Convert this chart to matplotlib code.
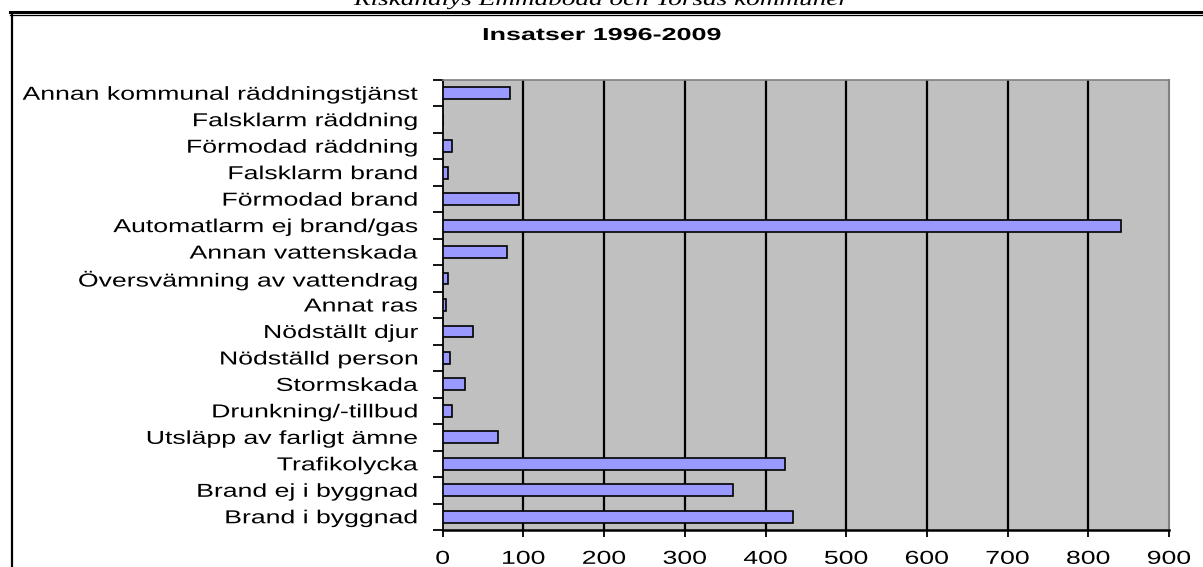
import matplotlib
matplotlib.use("Agg")
from matplotlib import pyplot as plt
from matplotlib.lines import Line2D
from matplotlib.patheffects import AbstractPathEffect
from matplotlib.transforms import Affine2D
import numpy as np

# data, bottom to top as in the chart
categories = ["Brand i byggnad", "Brand ej i byggnad", "Trafikolycka",
              "Utsläpp av farligt ämne", "Drunkning/-tillbud", "Stormskada",
              "Nödställd person", "Nödställt djur", "Annat ras",
              "Översvämning av vattendrag", "Annan vattenskada",
              "Automatlarm ej brand/gas", "Förmodad brand", "Falsklarm brand",
              "Förmodad räddning", "Falsklarm räddning",
              "Annan kommunal räddningstjänst"]
values = [434, 360, 424, 69, 12, 28, 9, 38, 4, 7, 80, 841, 95, 7, 12, 0, 83]
xticks = [0, 100, 200, 300, 400, 500, 600, 700, 800, 900]


class Stretch(AbstractPathEffect):
    # widen text horizontally (the original chart's text is stretched)
    def __init__(self, sx, ha="center"):
        super().__init__()
        self.sx = sx
        self.ha = ha

    def draw_path(self, renderer, gc, tpath, affine, rgbFace=None):
        bb = tpath.get_extents(affine)
        if self.ha == "right":
            p = bb.x1
        elif self.ha == "left":
            p = bb.x0
        else:
            p = (bb.x0 + bb.x1) / 2
        aff = affine + Affine2D().translate(-p, 0).scale(self.sx, 1).translate(p, 0)
        renderer.draw_path(gc, tpath, aff, rgbFace)


plt.rcParams['font.family'] = ['Liberation Sans', 'DejaVu Sans']

W, H = 1203, 567
fig = plt.figure(figsize=(W/100, H/100), dpi=100)
ax = fig.add_axes([442.7/W, 1-530/H, (1169-442.7)/W, (530-80)/H])

ax.set_facecolor("#C0C0C0")
y = np.arange(len(categories))
ax.barh(y, values, height=0.45, color="#9999FF", edgecolor="black",
        linewidth=1.2, zorder=3)

ax.set_xlim(0, 900)
ax.set_ylim(-0.5, len(categories) - 0.5)
ax.set_xticks(xticks)
ax.set_xticklabels([str(t) for t in xticks], fontsize=13.5)
for t in xticks[1:-1]:
    ax.axvline(t, color="black", linewidth=1.6, zorder=2)

ax.set_yticks(y)
ax.set_yticklabels(categories, fontsize=13.5)
ax.set_yticks(np.arange(len(categories) + 1) - 0.5, minor=True)
ax.tick_params(axis="y", which="major", length=0, pad=18)
ax.tick_params(axis="y", which="minor", length=7, width=1.3, direction="out")
ax.tick_params(axis="x", length=5, width=1.3, direction="out", pad=10)

for lab in ax.get_yticklabels():
    lab.set_path_effects([Stretch(1.42, "right")])
for lab in ax.get_xticklabels():
    lab.set_path_effects([Stretch(1.42, "center")])

ax.spines["left"].set_linewidth(1.3)
ax.spines["bottom"].set_linewidth(1.8)
ax.spines["top"].set_color("#808080")
ax.spines["right"].set_color("#808080")
ax.spines["top"].set_linewidth(1.2)
ax.spines["right"].set_linewidth(1.5)

fig.text(602/W, 1-40/H, "Insatser 1996-2009", ha="center", va="baseline",
         fontsize=12.5, fontweight="bold", path_effects=[Stretch(1.55)])

# page header cut off at the top
fig.text(602/W, 1-5/H, "Riskanalys Emmaboda och Torsås kommuner", ha="center",
         va="baseline", fontsize=14, style="italic",
         family=["Liberation Serif", "DejaVu Serif"],
         path_effects=[Stretch(1.4)])
fig.add_artist(Line2D([10/W, 1], [1-12/H, 1-12/H], color="black", linewidth=2.2))
fig.add_artist(Line2D([10/W, 1], [1-14.8/H, 1-14.8/H], color="black", linewidth=0.9))
fig.add_artist(Line2D([11.5/W, 11.5/W], [0, 1-14.8/H], color="black", linewidth=1.6))

fig.savefig("out.png", dpi=100)
